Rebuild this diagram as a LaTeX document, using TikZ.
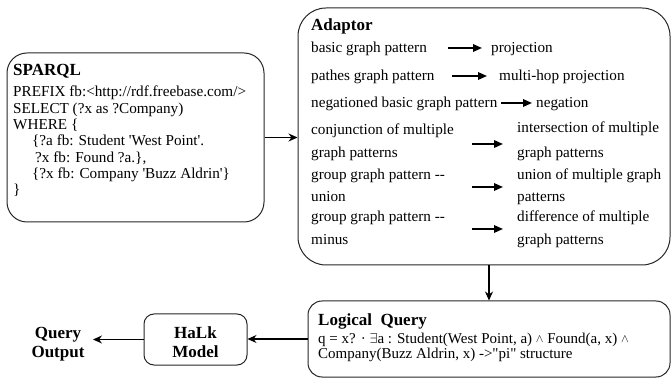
\documentclass[tikz,border=0pt]{standalone}
\usepackage{fontspec}
\setmainfont{Liberation Serif}
\usetikzlibrary{arrows.meta}
\newcommand{\sq}{\textquotesingle}
\newcommand{\dq}{\textquotedbl}
\newcommand{\andop}{\raisebox{0.3pt}{\scalebox{0.8}{$\wedge$}}}

\begin{document}
\begin{tikzpicture}[x=1pt,y=-1pt,
  box/.style={draw=black!85, line width=1pt, rounded corners=#1, inner sep=0pt},
  txt/.style={anchor=base west, inner sep=0pt, font=\fontsize{15.2}{16.3}\selectfont},
  smalltxt/.style={anchor=base west, inner sep=0pt, font=\fontsize{15}{16}\selectfont},
  ttl/.style={anchor=base west, inner sep=0pt, font=\fontsize{17}{19}\selectfont\bfseries},
  ctitle/.style={anchor=base, inner sep=0pt, font=\fontsize{17}{19}\selectfont\bfseries},
  flow/.style={-{Stealth[length=9pt,width=8pt]}, line width=1.2pt},
  map/.style={-{Triangle[length=9pt,width=7.5pt]}, line width=1.7pt}]
\useasboundingbox (0,0) rectangle (672,379);

% frames
\node[box=20pt, minimum width=257pt, minimum height=169pt] (sparql) at (135.5,137.5) {};
\node[box=28pt, minimum width=372pt, minimum height=257pt] (adaptor) at (484,136.5) {};
\node[box=14pt, minimum width=362pt, minimum height=76pt] (logic) at (489,339) {};
\node[box=10pt, minimum width=103pt, minimum height=51pt] (halk) at (195.5,339.5) {};

% SPARQL query
\node[ttl] (sqtitle) at (13,76) {SPARQL};
\node[txt] (sq1) at (13,97) {PREFIX fb:<http://rdf.freebase.com/>};
\node[txt] (sq2) at (13,113.3) {SELECT (?x as ?Company)};
\node[txt] (sq3) at (13,129.6) {WHERE \{};
\node[txt] (sq4) at (32,145.9) {\{?a fb: Student \sq West Point\sq.};
\node[txt] (sq5) at (35,162.2) {?x fb: Found ?a.\},};
\node[txt] (sq6) at (32,178.5) {\{?x fb: Company \sq Buzz Aldrin\sq\}};
\node[txt] (sq7) at (13,194.8) {\}};

% adaptor mappings
\node[ttl] (adtitle) at (311,31) {Adaptor};
\node[txt] (l1) at (311,53) {basic graph pattern};
\node[txt] (r1) at (491,53) {projection};
\node[txt] (l2) at (311,81) {pathes graph pattern};
\node[txt] (r2) at (499,81) {multi-hop projection};
\node[txt] (l3) at (311,108) {negationed basic graph pattern};
\node[txt] (r3) at (536,108) {negation};
\node[txt] (l4a) at (311,135) {conjunction of multiple};
\node[txt] (l4b) at (311,158) {graph patterns};
\node[txt] (r4a) at (517,133) {intersection of multiple};
\node[txt] (r4b) at (517,158) {graph patterns};
\node[txt] (l5a) at (311,180) {group graph pattern {-}{-}};
\node[txt] (l5b) at (311,202) {union};
\node[txt] (r5a) at (517,180) {union of multiple graph};
\node[txt] (r5b) at (517,202) {patterns};
\node[txt] (l6a) at (311,222) {group graph pattern {-}{-}};
\node[txt] (l6b) at (311,245) {minus};
\node[txt] (r6a) at (517,222) {difference of multiple};
\node[txt] (r6b) at (517,245) {graph patterns};

\coordinate (m1s) at (448,48);  \coordinate (m1e) at (482,48);
\coordinate (m2s) at (452,76);  \coordinate (m2e) at (487,76);
\coordinate (m3s) at (501,103); \coordinate (m3e) at (532,103);
\coordinate (m4s) at (472,144); \coordinate (m4e) at (503,144);
\coordinate (m5s) at (472,187); \coordinate (m5e) at (503,187);
\coordinate (m6s) at (472,229); \coordinate (m6e) at (503,229);
\foreach \i in {1,...,6} \draw[map] (m\i s) -- (m\i e);

% logical query
\node[ttl] (lqtitle) at (318,326) {Logical\ \ Query};
\node[smalltxt] (lq1) at (318,343) {q = x? · $\exists$a : Student(West Point, a) \andop{} Found(a, x) \andop};
\node[smalltxt] (lq2) at (318,359) {Company(Buzz Aldrin, x) ->\dq pi\dq{} structure};

% model and output
\node[ctitle] (hk1) at (halk.center |- 0,338) {HaLk};
\node[ctitle] (hk2) at (halk.center |- 0,357) {Model};
\node[ctitle] (qo1) at (58,338) {Query};
\node[ctitle] (qo2) at (58,357) {Output};
\coordinate (qout) at (93,339.5);

% connectors
\draw[flow] (sparql.east) -- (sparql.east -| adaptor.west);
\draw[flow] (adaptor.south -| logic.north) -- (logic.north);
\draw[flow] (logic.west) -- (logic.west -| halk.east);
\draw[flow] (halk.west) -- (qout);
\end{tikzpicture}
\end{document}
